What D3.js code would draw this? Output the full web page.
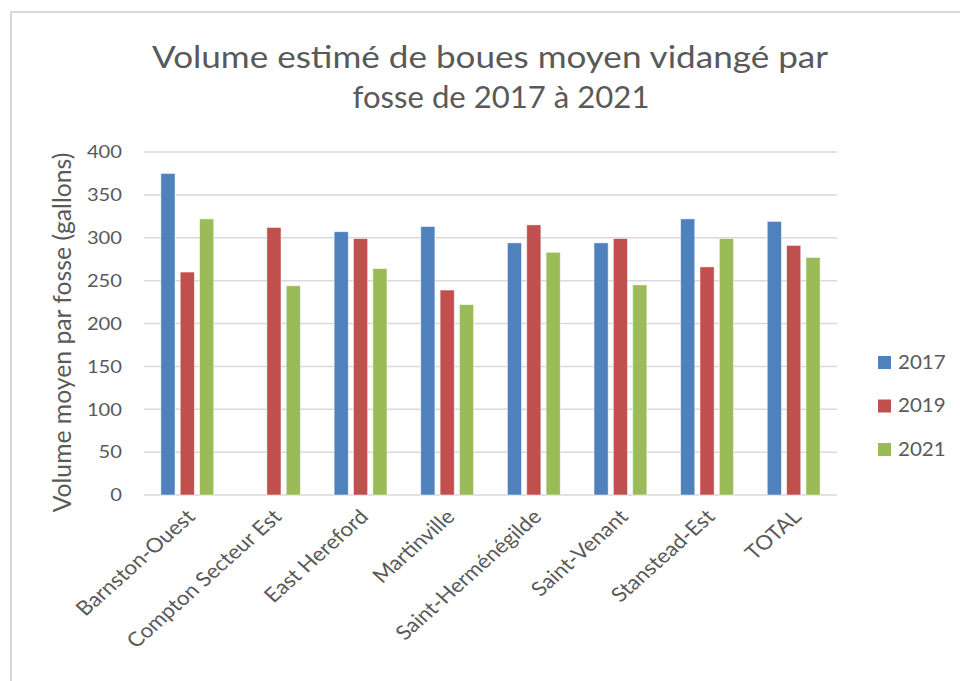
<!DOCTYPE html>
<html>
<head>
<meta charset="utf-8">
<script src="https://cdn.jsdelivr.net/npm/d3@7"></script>
<style>
  body { margin: 0; background: #fff; }
  svg { display: block; font-family: Lato, "Open Sans", sans-serif; }
</style>
</head>
<body>
<svg id="chart" width="960" height="681"></svg>
<script>
// data
const categories = ['Barnston-Ouest', 'Compton Secteur Est', 'East Hereford', 'Martinville',
  'Saint-Herménégilde', 'Saint-Venant', 'Stanstead-Est', 'TOTAL'];
const series = ['2017', '2019', '2021'];
const values2017 = [375, 0, 307, 313, 294, 294, 322, 319];
const values2019 = [260, 312, 299, 239, 315, 299, 266, 291];
const values2021 = [322, 244, 264, 222, 283, 245, 299, 277];
const yTicks = [0, 50, 100, 150, 200, 250, 300, 350, 400];
const colors = ['#4F81BD', '#C0504D', '#9BBB59'];
const titleLines = ['Volume estimé de boues moyen vidangé par', 'fosse de 2017 à 2021'];
const titleWidths = [676, 297]; // widths of each title line in the reference
const titleCenters = [490, 501];
const yTitle = 'Volume moyen par fosse (gallons)';

const table = categories.map((c, i) => ({
  name: c,
  vals: [values2017[i], values2019[i], values2021[i]],
}));

const svg = d3.select('#chart');
const textColor = '#595959';
// the reference text is a bit wider than tall, stretch glyphs horizontally
const sx = 1.12;

// outer frame
svg.append('rect')
  .attr('x', 11).attr('y', 12)
  .attr('width', 960).attr('height', 700)
  .attr('fill', 'none')
  .attr('stroke', '#d9d9d9')
  .attr('stroke-width', 2);

const plot = { left: 144, right: 837, top: 152, bottom: 495 };

const x0 = d3.scaleBand()
  .domain(categories)
  .range([plot.left, plot.right])
  .paddingInner(0.39)
  .paddingOuter(0.195);

const x1 = d3.scaleBand()
  .domain(series)
  .range([0, x0.bandwidth()])
  .paddingInner(0.27);

const y = d3.scaleLinear().domain([0, 400]).range([plot.bottom, plot.top]);

// gridlines
svg.append('g')
  .selectAll('line')
  .data(yTicks)
  .enter()
  .append('line')
  .attr('x1', plot.left).attr('x2', plot.right)
  .attr('y1', (d) => y(d)).attr('y2', (d) => y(d))
  .attr('stroke', '#d9d9d9')
  .attr('stroke-width', 1.5);

// y tick labels
const yAxis = svg.append('g')
  .attr('transform', `translate(${plot.left - 22},0)`)
  .call(d3.axisLeft(y).tickValues(yTicks).tickSize(0).tickPadding(0));
yAxis.select('.domain').remove();
yAxis.selectAll('.tick text')
  .attr('fill', textColor)
  .style('font-size', '18px')
  .attr('font-family', 'Lato, sans-serif')
  .attr('x', 0)
  .attr('transform', `scale(${sx},1)`);

// bars
svg.append('g')
  .selectAll('g')
  .data(table)
  .enter()
  .append('g')
  .attr('transform', (d) => `translate(${x0(d.name)},0)`)
  .selectAll('rect')
  .data((d) => d.vals.map((v, i) => ({ key: series[i], v, i })))
  .enter()
  .append('rect')
  .attr('x', (d) => x1(d.key))
  .attr('width', x1.bandwidth())
  .attr('y', (d) => y(d.v))
  .attr('height', (d) => y(0) - y(d.v))
  .attr('fill', (d) => colors[d.i])
  .attr('stroke', '#fff')
  .attr('stroke-opacity', 0.6)
  .attr('stroke-width', 0.8);

// x category labels, rotated
const xAxis = svg.append('g')
  .attr('transform', `translate(0,${plot.bottom})`)
  .call(d3.axisBottom(x0).tickSize(0).tickPadding(0));
xAxis.select('.domain').remove();
xAxis.selectAll('text')
  .attr('fill', textColor)
  .style('font-size', '20px')
  .attr('font-family', 'Lato, sans-serif')
  .attr('text-anchor', 'end')
  .attr('dy', null)
  .attr('y', 0)
  .attr('transform', `translate(9,23) scale(${sx},1) rotate(-45)`);

// title, each line fitted to its width in the reference
svg.append('g')
  .selectAll('text')
  .data(titleLines)
  .enter()
  .append('text')
  .attr('text-anchor', 'middle')
  .attr('fill', textColor)
  .style('font-size', '30.5px')
  .attr('y', (d, i) => 68 + i * 40)
  .text((d) => d)
  .each(function (d, i) {
    const len = this.getComputedTextLength();
    d3.select(this)
      .attr('transform', `translate(${titleCenters[i]},0) scale(${titleWidths[i] / len},1)`);
  });

// y axis title
const yt = svg.append('text')
  .attr('text-anchor', 'middle')
  .attr('fill', textColor)
  .style('font-size', '21px')
  .text(yTitle);
const ytLen = yt.node().getComputedTextLength();
yt.style('font-size', `${(21 * 360) / ytLen}px`)
  .attr('transform', `translate(71,${(plot.top + plot.bottom) / 2 + 9}) rotate(-90)`);

// legend
const legend = svg.append('g')
  .selectAll('g')
  .data(series)
  .enter()
  .append('g')
  .attr('transform', (d, i) => `translate(878,${362 + i * 43.5})`);

legend.append('rect')
  .attr('x', 0).attr('y', -6)
  .attr('width', 13).attr('height', 13)
  .attr('fill', (d, i) => colors[i]);

legend.append('text')
  .attr('x', 20)
  .attr('dy', '0.35em')
  .attr('fill', textColor)
  .style('font-size', '19px')
  .attr('transform', 'translate(20,0) scale(1.08,1) translate(-20,0)')
  .text((d) => d);
</script>
</body>
</html>
